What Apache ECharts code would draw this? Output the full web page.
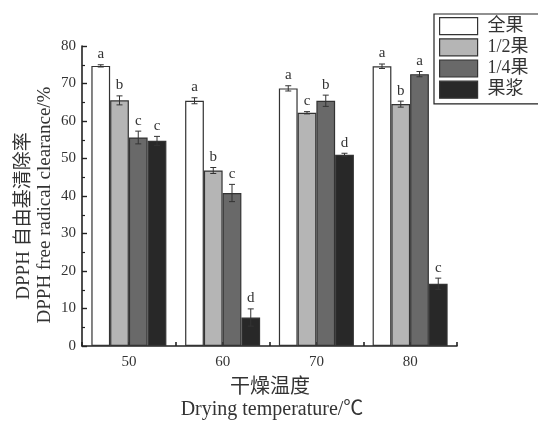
<!DOCTYPE html>
<html>
<head>
<meta charset="utf-8">
<script src="https://cdn.jsdelivr.net/npm/echarts@6/dist/echarts.min.js"></script>
<style>
  html, body { margin: 0; padding: 0; background: #fff; }
  #chart { width: 538px; height: 423px; }
</style>
</head>
<body>
<div id="chart"></div>
<script>
// Drying temperatures (°C)
const temperatures = ['50', '60', '70', '80'];
const seriesNames = ['全果', '1/2果', '1/4果', '果浆'];

// DPPH radical clearance (%) per sample form, one value per temperature
const wholeFruit = [74.7, 65.4, 68.7, 74.6];
const halfFruit = [65.5, 46.8, 62.2, 64.5];
const quarterFruit = [55.6, 40.8, 65.4, 72.5];
const pulp = [54.7, 7.6, 51.0, 16.6];

// Standard deviations
const wholeFruitErr = [0.3, 0.8, 0.7, 0.6];
const halfFruitErr = [1.2, 0.8, 0.3, 0.8];
const quarterFruitErr = [1.7, 2.3, 1.5, 0.7];
const pulpErr = [1.2, 2.3, 0.4, 1.5];

// Significance letters
const wholeFruitSig = ['a', 'a', 'a', 'a'];
const halfFruitSig = ['b', 'b', 'c', 'b'];
const quarterFruitSig = ['c', 'c', 'b', 'a'];
const pulpSig = ['c', 'd', 'd', 'c'];

const yTicks = [0, 10, 20, 30, 40, 50, 60, 70, 80];

const yTitleCn = 'DPPH 自由基清除率';
const yTitleEn = 'DPPH free radical clearance/%';
const xTitleCn = '干燥温度';
const xTitleEn = 'Drying temperature/℃';

const values = [wholeFruit, halfFruit, quarterFruit, pulp];
const errors = [wholeFruitErr, halfFruitErr, quarterFruitErr, pulpErr];
const letters = [wholeFruitSig, halfFruitSig, quarterFruitSig, pulpSig];
const fills = ['#ffffff', '#b5b5b5', '#696969', '#282828'];

const serif = '"Liberation Serif", "Noto Sans CJK SC", serif';
const GROUP_FRACTION = 0.8;

const chart = echarts.init(document.getElementById('chart'));

const barSeries = seriesNames.map((name, i) => ({
  name: name,
  type: 'bar',
  xAxisIndex: 0,
  data: values[i],
  barGap: '0%',
  barCategoryGap: '20%',
  itemStyle: { color: fills[i], borderColor: '#333', borderWidth: 1.2 },
  emphasis: { disabled: true },
  z: 2
}));

// Error bars with significance letters above each bar
const errSeries = seriesNames.map((name, i) => ({
  type: 'custom',
  xAxisIndex: 0,
  data: temperatures.map((t, j) => [j, values[i][j], errors[i][j], letters[i][j]]),
  z: 5,
  silent: true,
  renderItem: function (params, api) {
    const idx = api.value(0);
    const v = api.value(1);
    const e = api.value(2);
    const catW = api.size([1, 0])[0];
    const bw = catW * GROUP_FRACTION / 4;
    const center = api.coord([idx, v]);
    const x = center[0] + (i - 1.5) * bw;
    const yTop = api.coord([idx, v + e])[1];
    const yBot = api.coord([idx, v - e])[1];
    const cap = 3;
    const style = { stroke: '#333', lineWidth: 1 };
    return {
      type: 'group',
      children: [
        { type: 'line', shape: { x1: x, y1: yTop, x2: x, y2: yBot }, style: style },
        { type: 'line', shape: { x1: x - cap, y1: yTop, x2: x + cap, y2: yTop }, style: style },
        { type: 'line', shape: { x1: x - cap, y1: yBot, x2: x + cap, y2: yBot }, style: style },
        {
          type: 'text',
          style: {
            text: api.value(3),
            x: x,
            y: yTop - 3,
            align: 'center',
            verticalAlign: 'bottom',
            font: '15px ' + serif,
            fill: '#333'
          }
        }
      ]
    };
  }
}));

const titleStyle = { font: '19px ' + serif, fill: '#333', align: 'center', verticalAlign: 'middle' };

chart.setOption({
  animation: false,
  backgroundColor: '#fff',
  grid: { left: 82, right: 81, top: 46, bottom: 77 },
  legend: {
    data: seriesNames,
    orient: 'vertical',
    left: 434,
    top: 14,
    padding: [3, 30, 5, 5],
    itemWidth: 38,
    itemHeight: 17,
    itemGap: 3,
    icon: 'rect',
    borderColor: '#222',
    borderWidth: 1.2,
    backgroundColor: '#fff',
    selectedMode: false,
    itemStyle: { borderColor: '#333', borderWidth: 1.2 },
    textStyle: { fontFamily: serif, fontSize: 18, color: '#333', padding: [0, 0, 0, 5] }
  },
  xAxis: [
    {
      type: 'category',
      data: temperatures,
      position: 'bottom',
      axisLine: { lineStyle: { color: '#222', width: 1.6 } },
      axisTick: { show: true, inside: true, length: 4, lineStyle: { color: '#222', width: 1.6 } },
      axisLabel: { fontFamily: serif, fontSize: 15, color: '#333', margin: 9 }
    },
    {
      type: 'category',
      data: temperatures,
      position: 'bottom',
      axisLine: { show: false },
      axisTick: { show: true, inside: true, length: 4, alignWithLabel: true, lineStyle: { color: '#222', width: 1.6 } },
      axisLabel: { show: false }
    }
  ],
  yAxis: {
    type: 'value',
    min: yTicks[0],
    max: yTicks[yTicks.length - 1],
    interval: 10,
    axisLine: { show: true, lineStyle: { color: '#222', width: 1.6 } },
    axisTick: { show: true, inside: true, length: 5, lineStyle: { color: '#222', width: 1.4 } },
    minorTick: { show: true, splitNumber: 2, length: 3, lineStyle: { color: '#222', width: 1.2 } },
    splitLine: { show: false },
    axisLabel: { fontFamily: serif, fontSize: 15, color: '#333', margin: 6 }
  },
  graphic: [
    { type: 'text', x: 24, y: 216, rotation: Math.PI / 2, style: Object.assign({ text: yTitleCn }, titleStyle) },
    { type: 'text', x: 45, y: 205, rotation: Math.PI / 2, style: Object.assign({ text: yTitleEn }, titleStyle) },
    { type: 'text', x: 270, y: 388, style: Object.assign({ text: xTitleCn }, titleStyle, { font: '20px ' + serif }) },
    { type: 'text', x: 272, y: 410, style: Object.assign({ text: xTitleEn }, titleStyle, { font: '20px ' + serif }) }
  ],
  series: barSeries.concat(errSeries)
});
</script>
</body>
</html>
